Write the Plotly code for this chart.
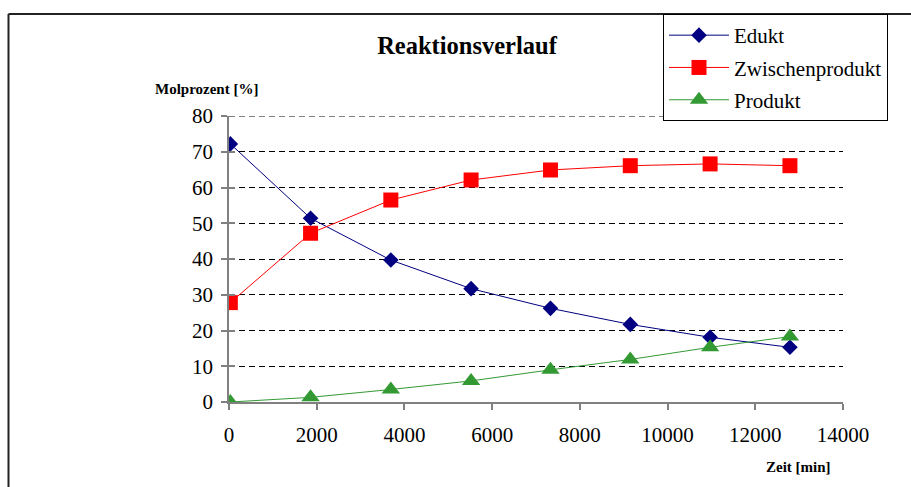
import plotly.graph_objects as go

# Reaction progress: mole percent of each species over time
zeit_min = [30, 1860, 3690, 5520, 7330, 9150, 10970, 12790]
edukt = [72.2, 51.4, 39.7, 31.7, 26.2, 21.7, 18.1, 15.3]
zwischenprodukt = [27.8, 47.2, 56.5, 62.1, 64.9, 66.1, 66.6, 66.1]
produkt = [0.0, 1.3, 3.5, 5.9, 9.0, 11.9, 15.3, 18.3]

x_ticks = [0, 2000, 4000, 6000, 8000, 10000, 12000, 14000]
y_ticks = [0, 10, 20, 30, 40, 50, 60, 70, 80]

SERIF = "Liberation Serif, Times New Roman, serif"

W, H = 911, 487
L, R, T, B = 229, 68, 116, 85
PW, PH = W - L - R, H - T - B


def px_x(px):
    return (px - L) / PW


def px_y(py):
    return (H - B - py) / PH


fig = go.Figure()

fig.add_trace(go.Scatter(
    x=zeit_min, y=edukt, name="Edukt", mode="lines+markers",
    line=dict(color="#000080", width=1),
    marker=dict(symbol="diamond", size=12, color="#000080"),
    legendgroup="a",
))
fig.add_trace(go.Scatter(
    x=zeit_min, y=zwischenprodukt, name="Zwischenprodukt", mode="lines+markers",
    line=dict(color="#FF0000", width=1),
    marker=dict(symbol="square", size=15, color="#FF0000"),
    legendgroup="b",
))
fig.add_trace(go.Scatter(
    x=zeit_min, y=produkt, name="Produkt", mode="lines+markers",
    line=dict(color="#339933", width=1),
    marker=dict(symbol="triangle-up", size=16, color="#339933"),
    legendgroup="c",
))

# invisible trace on the twin axis so the inside tick marks get drawn
fig.add_trace(go.Scatter(x=[0], y=[0], yaxis="y2", mode="markers",
                         marker=dict(opacity=0), showlegend=False, hoverinfo="skip"))

axis_line = "#808080"
grid_dash = "6px,4px"

fig.update_layout(
    width=W, height=H, autosize=False,
    margin=dict(l=L, r=R, t=T, b=B, pad=0),
    paper_bgcolor="white", plot_bgcolor="white",
    font=dict(family=SERIF, color="black", size=21),
    showlegend=True,
    title=dict(
        text="<b>Reaktionsverlauf</b>",
        font=dict(family=SERIF, size=24.5, color="black"),
        x=px_x(467), xref="paper", xanchor="center",
        y=1 - 45 / H, yref="container", yanchor="middle",
    ),
    xaxis=dict(
        range=[0, 14000], tickvals=x_ticks, ticktext=[str(v) for v in x_ticks],
        showgrid=False, zeroline=False,
        showline=True, linecolor=axis_line, linewidth=1.5,
        ticks="outside", ticklen=6, tickcolor=axis_line, tickwidth=1.5,
        tickfont=dict(family=SERIF, size=21, color="black"),
        ticklabelstandoff=7,
        fixedrange=True,
    ),
    yaxis=dict(
        range=[0, 80], tickvals=y_ticks,
        showgrid=True, gridcolor="black", gridwidth=1, griddash=grid_dash,
        zeroline=False,
        showline=True, linecolor=axis_line, linewidth=1.5,
        ticks="outside", ticklen=6, tickcolor=axis_line, tickwidth=1.5,
        tickfont=dict(family=SERIF, size=21, color="black"),
        ticklabelstandoff=4,
        fixedrange=True,
    ),
    yaxis2=dict(
        range=[0, 80], tickvals=y_ticks, overlaying="y", side="left",
        showgrid=False, zeroline=False, showline=False, showticklabels=False,
        ticks="inside", ticklen=6, tickcolor=axis_line, tickwidth=1.5,
        fixedrange=True,
    ),
    legend=dict(
        x=px_x(663), y=px_y(14), xanchor="left", yanchor="top",
        bgcolor="white", bordercolor="black", borderwidth=1,
        font=dict(family=SERIF, size=21, color="black"),
        traceorder="grouped", tracegroupgap=2, itemwidth=60,
    ),
    annotations=[
        dict(text="<b>Molprozent [%]</b>", xref="paper", yref="paper",
             x=px_x(206), y=px_y(89), xanchor="center", yanchor="middle",
             showarrow=False, font=dict(family=SERIF, size=15, color="black")),
        dict(text="<b>Zeit [min]</b>", xref="paper", yref="paper",
             x=px_x(798), y=px_y(467), xanchor="center", yanchor="middle",
             showarrow=False, font=dict(family=SERIF, size=15, color="black")),
    ],
    shapes=[
        # top gridline at the upper end of the value range
        dict(type="line", xref="paper", yref="y", layer="below",
             x0=0, x1=1, y0=y_ticks[-1], y1=y_ticks[-1],
             line=dict(color="black", width=1, dash=grid_dash)),
        # chart frame (top and left edges)
        dict(type="line", xref="paper", yref="paper",
             x0=px_x(8.5), x1=px_x(915), y0=px_y(14), y1=px_y(14),
             line=dict(color="#222222", width=2)),
        dict(type="line", xref="paper", yref="paper",
             x0=px_x(8.5), x1=px_x(8.5), y0=px_y(14), y1=px_y(492),
             line=dict(color="#222222", width=2)),
    ],
)

fig.write_html("out.html")
